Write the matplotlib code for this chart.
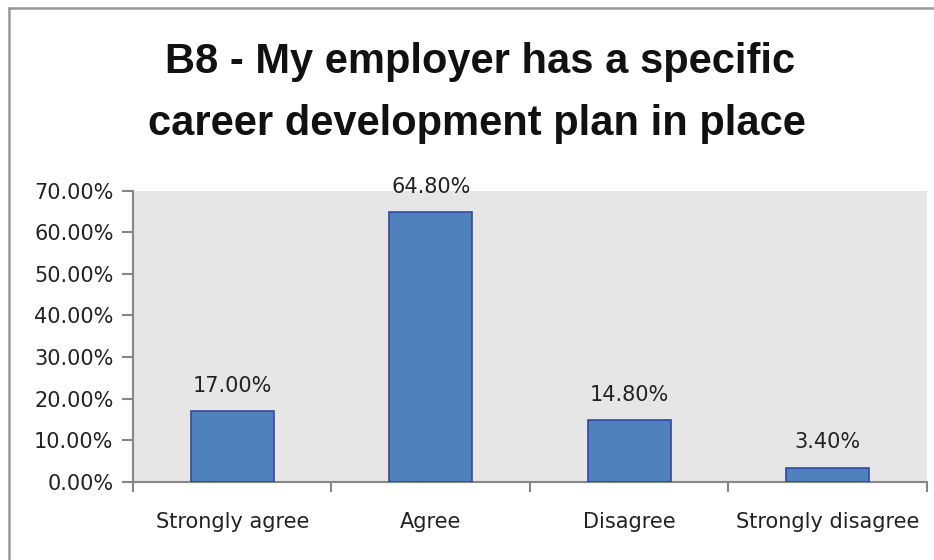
import matplotlib.pyplot as plt
from matplotlib.lines import Line2D
from matplotlib.ticker import FixedLocator

# survey answers for question B8
answers = ["Strongly agree", "Agree", "Disagree", "Strongly disagree"]
shares = [17.00, 64.80, 14.80, 3.40]
y_ticks = [0, 10, 20, 30, 40, 50, 60, 70]

plt.rcParams['font.family'] = ['DejaVu Sans']

fig = plt.figure(figsize=(9.34, 5.6), dpi=100)
ax = fig.add_axes([0.1424, 0.1398, 0.8501, 0.5197])
ax.set_facecolor('#e6e6e6')

xs = range(len(answers))
ax.bar(xs, shares, width=0.42, color='#4f81bd', edgecolor='#3a45a0', linewidth=1.2, zorder=3)

for x, v in zip(xs, shares):
    ax.text(x, v + 4.6, '%.2f%%' % v, ha='center', va='baseline', fontsize=15, color='#222222')

ax.set_xlim(-0.5, len(answers) - 0.5)
ax.set_ylim(0, 70)
ax.set_yticks(y_ticks)
ax.set_yticklabels(['%.2f%%' % t for t in y_ticks], fontsize=15, color='#222222')

# category labels centred, tick marks on the boundaries between categories
ax.set_xticks(list(xs))
ax.set_xticklabels(answers, fontsize=15, color='#222222')
ax.tick_params(axis='x', which='major', length=0, pad=22)
ax.xaxis.set_minor_locator(FixedLocator([i - 0.5 for i in range(len(answers) + 1)]))
ax.tick_params(axis='x', which='minor', length=7, color='#868686', width=1.5, direction='out')
ax.tick_params(axis='y', length=8, color='#868686', width=1.5, direction='out', pad=6)

for side in ['top', 'right']:
    ax.spines[side].set_visible(False)
for side in ['left', 'bottom']:
    ax.spines[side].set_color('#868686')
    ax.spines[side].set_linewidth(1.5)

fig.text(0.514, 0.8696, 'B8 - My employer has a specific', ha='center', va='baseline',
         fontsize=30, fontweight='bold', color='#111111', family='Liberation Sans')
fig.text(0.511, 0.7589, 'career development plan in place', ha='center', va='baseline',
         fontsize=30, fontweight='bold', color='#111111', family='Liberation Sans')

# chart border, only the top and left edges fall inside the figure
fig.lines.append(Line2D([0.0096, 1.0], [0.986, 0.986], transform=fig.transFigure,
                        color='#999999', linewidth=1.8))
fig.lines.append(Line2D([0.0096, 0.0096], [0.0, 0.986], transform=fig.transFigure,
                        color='#999999', linewidth=1.8))

fig.savefig('out.png', dpi=100)
